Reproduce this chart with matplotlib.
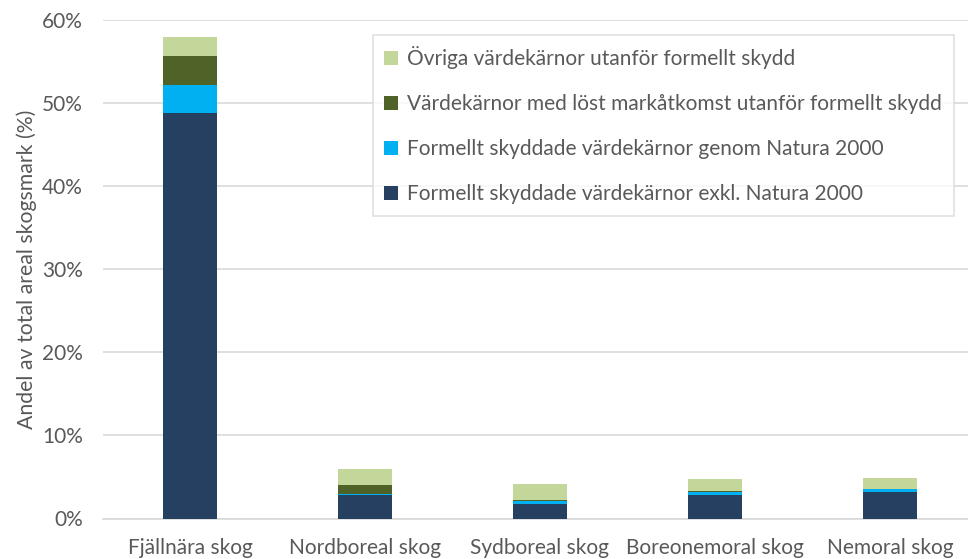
import numpy as np
import matplotlib.pyplot as plt

categories = ['Fjällnära skog', 'Nordboreal skog', 'Sydboreal skog', 'Boreonemoral skog', 'Nemoral skog']
exkl_natura = [48.8, 2.8, 1.8, 2.8, 3.2]
natura = [3.4, 0.2, 0.3, 0.4, 0.3]
lost_markatkomst = [3.5, 1.0, 0.1, 0.15, 0.05]
ovriga = [2.3, 2.0, 1.9, 1.45, 1.35]

series = [
    ('Formellt skyddade värdekärnor exkl. Natura 2000', exkl_natura, '#254061'),
    ('Formellt skyddade värdekärnor genom Natura 2000', natura, '#00b0f0'),
    ('Värdekärnor med löst markåtkomst utanför formellt skydd', lost_markatkomst, '#4f6228'),
    ('Övriga värdekärnor utanför formellt skydd', ovriga, '#c4d79b'),
]

plt.rcParams['font.family'] = ['Lato', 'DejaVu Sans']
text_color = '#595959'

fig = plt.figure(figsize=(9.68, 5.59), dpi=100)
ax = fig.add_axes([102.5 / 968, 40.5 / 559, 865.5 / 968, 498.5 / 559])

x = np.arange(len(categories))
bottom = np.zeros(len(categories))
handles = []
for label, vals, color in series:
    b = ax.bar(x, vals, bottom=bottom, width=0.3125, color=color, label=label, zorder=3)
    bottom += np.array(vals)
    handles.append(b)

ax.set_xlim(-0.5, 4.5 - 9.5 / 175)
ax.set_ylim(0, 60)
ax.set_yticks(range(0, 61, 10))
ax.set_yticklabels([f'{v}%' for v in range(0, 61, 10)])
ax.set_xticks(x)
ax.set_xticklabels(categories)
ax.yaxis.grid(True, color='#d9d9d9', linewidth=1.2, zorder=0)
for s in ['top', 'right', 'left']:
    ax.spines[s].set_visible(False)
ax.spines['bottom'].set_color('#d9d9d9')
ax.spines['bottom'].set_linewidth(1.2)
ax.tick_params(axis='both', length=0, colors=text_color, labelsize=15)
ax.tick_params(axis='x', pad=14)
ax.tick_params(axis='y', pad=14)
ax.set_ylabel('Andel av total areal skogsmark (%)', fontsize=15.3, color=text_color, labelpad=4)

leg = fig.legend(handles[::-1], [s[0] for s in series][::-1],
                 loc='upper left', bbox_to_anchor=(373 / 968, 1 - 35 / 559),
                 fontsize=15, frameon=True, fancybox=False, labelspacing=1.2,
                 handlelength=0.65, handleheight=0.65, handletextpad=0.45,
                 borderpad=0.55, borderaxespad=0)
leg.get_frame().set_edgecolor('#d9d9d9')
leg.get_frame().set_linewidth(1.2)
for t in leg.get_texts():
    t.set_color(text_color)

fig.savefig('out.png', dpi=100)
